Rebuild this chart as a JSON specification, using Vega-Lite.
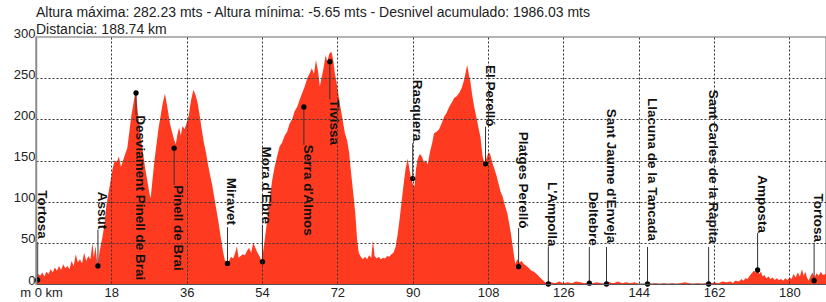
{
  "$schema": "https://vega.github.io/schema/vega-lite/v6.json",
  "width": 790,
  "height": 247,
  "autosize": {"type": "none"},
  "padding": {"left": 36, "top": 37, "right": 0, "bottom": 18},
  "background": "white",
  "config": {
    "font": "Liberation Sans",
    "view": {"stroke": "#9a9a9a", "strokeWidth": 1.5},
    "axis": {"labelFont": "Liberation Sans", "labelFontSize": 13, "labelColor": "#222", "titleFontSize": 13}
  },
  "title": {
    "text": ["Altura máxima: 282.23 mts - Altura mínima: -5.65 mts - Desnivel acumulado: 1986.03 mts", "Distancia: 188.74 km"],
    "anchor": "start",
    "frame": "group",
    "font": "Liberation Sans",
    "fontSize": 14,
    "fontWeight": "normal",
    "color": "#222",
    "lineHeight": 17,
    "offset": -10
  },
  "datasets": {
    "profile": [
      {"km": 0, "elev": 5}, {"km": 0.5, "elev": 12}, {"km": 1, "elev": 10}, {"km": 1.5, "elev": 14}, {"km": 2, "elev": 9},
      {"km": 2.5, "elev": 15}, {"km": 3, "elev": 12}, {"km": 3.5, "elev": 18}, {"km": 4, "elev": 14}, {"km": 4.5, "elev": 20},
      {"km": 5, "elev": 16}, {"km": 5.5, "elev": 22}, {"km": 6, "elev": 17}, {"km": 6.5, "elev": 24}, {"km": 7, "elev": 19},
      {"km": 7.5, "elev": 22}, {"km": 8, "elev": 18}, {"km": 8.5, "elev": 28}, {"km": 9, "elev": 22}, {"km": 9.5, "elev": 36},
      {"km": 10, "elev": 26}, {"km": 10.5, "elev": 30}, {"km": 11, "elev": 25}, {"km": 11.5, "elev": 38}, {"km": 12, "elev": 28},
      {"km": 12.5, "elev": 34}, {"km": 13, "elev": 30}, {"km": 13.5, "elev": 50}, {"km": 13.8, "elev": 32}, {"km": 14.2, "elev": 46},
      {"km": 14.7, "elev": 22}, {"km": 15.2, "elev": 40}, {"km": 15.8, "elev": 55}, {"km": 16.3, "elev": 70}, {"km": 16.8, "elev": 95},
      {"km": 17.3, "elev": 110}, {"km": 17.8, "elev": 125}, {"km": 18.3, "elev": 140}, {"km": 18.8, "elev": 150}, {"km": 19.3, "elev": 148},
      {"km": 19.8, "elev": 155}, {"km": 20.3, "elev": 142}, {"km": 20.8, "elev": 150}, {"km": 21.3, "elev": 158}, {"km": 21.8, "elev": 165},
      {"km": 22.3, "elev": 185}, {"km": 22.8, "elev": 205}, {"km": 23.3, "elev": 220}, {"km": 23.8, "elev": 236}, {"km": 24.2, "elev": 215},
      {"km": 24.6, "elev": 195}, {"km": 25.1, "elev": 175}, {"km": 25.6, "elev": 158}, {"km": 26.1, "elev": 140}, {"km": 26.6, "elev": 125},
      {"km": 27.1, "elev": 110}, {"km": 27.4, "elev": 104}, {"km": 27.8, "elev": 125}, {"km": 28.3, "elev": 150}, {"km": 28.8, "elev": 170},
      {"km": 29.3, "elev": 190}, {"km": 29.8, "elev": 205}, {"km": 30.3, "elev": 220}, {"km": 30.8, "elev": 231}, {"km": 31.2, "elev": 220},
      {"km": 31.6, "elev": 208}, {"km": 32.0, "elev": 195}, {"km": 32.5, "elev": 185}, {"km": 33.0, "elev": 175}, {"km": 33.4, "elev": 170},
      {"km": 33.8, "elev": 182}, {"km": 34.2, "elev": 190}, {"km": 34.6, "elev": 180}, {"km": 35.0, "elev": 192}, {"km": 35.5, "elev": 188},
      {"km": 36.0, "elev": 196}, {"km": 36.5, "elev": 205}, {"km": 37.0, "elev": 222}, {"km": 37.6, "elev": 236}, {"km": 38.1, "elev": 230},
      {"km": 38.6, "elev": 220}, {"km": 39.1, "elev": 205}, {"km": 39.6, "elev": 188}, {"km": 40.1, "elev": 172}, {"km": 40.6, "elev": 160},
      {"km": 41.1, "elev": 145}, {"km": 41.6, "elev": 132}, {"km": 42.1, "elev": 120}, {"km": 42.6, "elev": 105}, {"km": 43.1, "elev": 90},
      {"km": 43.6, "elev": 75}, {"km": 44.1, "elev": 58}, {"km": 44.6, "elev": 42}, {"km": 45.1, "elev": 29}, {"km": 45.6, "elev": 26},
      {"km": 46.1, "elev": 28}, {"km": 46.6, "elev": 33}, {"km": 47.1, "elev": 31}, {"km": 47.6, "elev": 38}, {"km": 48.0, "elev": 46},
      {"km": 48.4, "elev": 32}, {"km": 48.9, "elev": 34}, {"km": 49.4, "elev": 36}, {"km": 49.9, "elev": 35}, {"km": 50.4, "elev": 40},
      {"km": 50.9, "elev": 44}, {"km": 51.4, "elev": 38}, {"km": 51.9, "elev": 50}, {"km": 52.4, "elev": 44}, {"km": 52.9, "elev": 38},
      {"km": 53.4, "elev": 34}, {"km": 53.9, "elev": 27}, {"km": 54.3, "elev": 40}, {"km": 54.8, "elev": 60}, {"km": 55.3, "elev": 80},
      {"km": 55.8, "elev": 102}, {"km": 56.4, "elev": 125}, {"km": 57.0, "elev": 142}, {"km": 57.6, "elev": 155}, {"km": 58.2, "elev": 167},
      {"km": 58.8, "elev": 172}, {"km": 59.4, "elev": 180}, {"km": 60.0, "elev": 185}, {"km": 60.6, "elev": 195}, {"km": 61.2, "elev": 200},
      {"km": 61.8, "elev": 210}, {"km": 62.4, "elev": 215}, {"km": 63.0, "elev": 224}, {"km": 63.6, "elev": 232}, {"km": 64.2, "elev": 240},
      {"km": 64.8, "elev": 250}, {"km": 65.4, "elev": 256}, {"km": 65.9, "elev": 262}, {"km": 66.4, "elev": 255}, {"km": 66.9, "elev": 272},
      {"km": 67.4, "elev": 258}, {"km": 67.8, "elev": 240}, {"km": 68.2, "elev": 250}, {"km": 68.7, "elev": 262}, {"km": 69.2, "elev": 278},
      {"km": 69.6, "elev": 270}, {"km": 70.1, "elev": 280}, {"km": 70.6, "elev": 282.23}, {"km": 71.0, "elev": 272}, {"km": 71.4, "elev": 256},
      {"km": 71.8, "elev": 245}, {"km": 72.2, "elev": 232}, {"km": 72.6, "elev": 218}, {"km": 73.0, "elev": 207}, {"km": 73.4, "elev": 195},
      {"km": 73.8, "elev": 183}, {"km": 74.3, "elev": 175}, {"km": 74.8, "elev": 160}, {"km": 75.3, "elev": 134}, {"km": 75.8, "elev": 110},
      {"km": 76.3, "elev": 85}, {"km": 76.7, "elev": 55}, {"km": 77.1, "elev": 38}, {"km": 77.6, "elev": 33}, {"km": 78.1, "elev": 30},
      {"km": 78.6, "elev": 33}, {"km": 79.1, "elev": 30}, {"km": 79.6, "elev": 35}, {"km": 80.1, "elev": 32}, {"km": 80.5, "elev": 53},
      {"km": 80.9, "elev": 34}, {"km": 81.4, "elev": 31}, {"km": 81.9, "elev": 33}, {"km": 82.4, "elev": 30}, {"km": 82.9, "elev": 32},
      {"km": 83.4, "elev": 31}, {"km": 83.9, "elev": 34}, {"km": 84.4, "elev": 33}, {"km": 84.9, "elev": 36}, {"km": 85.4, "elev": 38},
      {"km": 85.9, "elev": 45}, {"km": 86.4, "elev": 60}, {"km": 86.9, "elev": 80}, {"km": 87.3, "elev": 98}, {"km": 87.8, "elev": 120},
      {"km": 88.3, "elev": 140}, {"km": 88.8, "elev": 152}, {"km": 89.2, "elev": 140}, {"km": 89.6, "elev": 128}, {"km": 90.0, "elev": 122},
      {"km": 90.4, "elev": 118}, {"km": 90.8, "elev": 140}, {"km": 91.2, "elev": 152}, {"km": 91.7, "elev": 158}, {"km": 92.2, "elev": 155},
      {"km": 92.7, "elev": 148}, {"km": 93.2, "elev": 150}, {"km": 93.6, "elev": 145}, {"km": 94.1, "elev": 160}, {"km": 94.6, "elev": 170},
      {"km": 95.1, "elev": 183}, {"km": 95.7, "elev": 185}, {"km": 96.3, "elev": 188}, {"km": 96.9, "elev": 195}, {"km": 97.5, "elev": 203},
      {"km": 98.1, "elev": 208}, {"km": 98.7, "elev": 215}, {"km": 99.3, "elev": 220}, {"km": 99.9, "elev": 226}, {"km": 100.5, "elev": 228},
      {"km": 101.1, "elev": 232}, {"km": 101.7, "elev": 238}, {"km": 102.3, "elev": 248}, {"km": 102.7, "elev": 258}, {"km": 103.0, "elev": 266},
      {"km": 103.4, "elev": 255}, {"km": 103.8, "elev": 245}, {"km": 104.2, "elev": 230}, {"km": 104.7, "elev": 215}, {"km": 105.2, "elev": 203},
      {"km": 105.7, "elev": 190}, {"km": 106.2, "elev": 178}, {"km": 106.7, "elev": 155}, {"km": 107.1, "elev": 148}, {"km": 107.6, "elev": 152},
      {"km": 108.1, "elev": 160}, {"km": 108.5, "elev": 158}, {"km": 109.0, "elev": 148}, {"km": 109.5, "elev": 140}, {"km": 110.0, "elev": 132},
      {"km": 110.5, "elev": 122}, {"km": 111.0, "elev": 112}, {"km": 111.5, "elev": 106}, {"km": 112.0, "elev": 96}, {"km": 112.6, "elev": 86},
      {"km": 113.1, "elev": 72}, {"km": 113.5, "elev": 60}, {"km": 114.0, "elev": 42}, {"km": 114.5, "elev": 24}, {"km": 115.0, "elev": 30},
      {"km": 115.5, "elev": 26}, {"km": 116.0, "elev": 28}, {"km": 116.6, "elev": 24}, {"km": 117.2, "elev": 22}, {"km": 117.8, "elev": 19},
      {"km": 118.4, "elev": 16}, {"km": 119.0, "elev": 15}, {"km": 119.6, "elev": 12}, {"km": 120.2, "elev": 9}, {"km": 120.8, "elev": 6},
      {"km": 121.4, "elev": 3}, {"km": 122, "elev": 1}, {"km": 123, "elev": 2}, {"km": 124, "elev": 1}, {"km": 125, "elev": 3},
      {"km": 126, "elev": 1}, {"km": 127, "elev": 2}, {"km": 128, "elev": 1}, {"km": 129, "elev": 3}, {"km": 130, "elev": 2},
      {"km": 131, "elev": 1}, {"km": 132, "elev": 2}, {"km": 133, "elev": 1}, {"km": 134, "elev": 2}, {"km": 135, "elev": 1},
      {"km": 136, "elev": 0}, {"km": 137, "elev": 2}, {"km": 138, "elev": 1}, {"km": 139, "elev": 3}, {"km": 140, "elev": 1},
      {"km": 141, "elev": 2}, {"km": 142, "elev": 1}, {"km": 143, "elev": 2}, {"km": 144, "elev": 0}, {"km": 145, "elev": 0},
      {"km": 146, "elev": 1}, {"km": 147, "elev": 0}, {"km": 148, "elev": 1}, {"km": 149, "elev": 0}, {"km": 150, "elev": 1},
      {"km": 151, "elev": 0}, {"km": 152, "elev": 1}, {"km": 153, "elev": 0}, {"km": 154, "elev": 1}, {"km": 155, "elev": 2},
      {"km": 156, "elev": 1}, {"km": 157, "elev": 0}, {"km": 158, "elev": 1}, {"km": 159, "elev": 0}, {"km": 160, "elev": 1},
      {"km": 161, "elev": 0}, {"km": 162, "elev": 2}, {"km": 163, "elev": 1}, {"km": 164, "elev": 3}, {"km": 165, "elev": 2},
      {"km": 166, "elev": 3}, {"km": 166.5, "elev": 1}, {"km": 167, "elev": 4}, {"km": 168, "elev": 3}, {"km": 168.5, "elev": 6},
      {"km": 169, "elev": 4}, {"km": 169.5, "elev": 7}, {"km": 170, "elev": 6}, {"km": 170.5, "elev": 10}, {"km": 171, "elev": 13},
      {"km": 171.5, "elev": 16}, {"km": 172, "elev": 14}, {"km": 172.4, "elev": 20}, {"km": 172.8, "elev": 12}, {"km": 173.2, "elev": 15},
      {"km": 173.6, "elev": 9}, {"km": 174, "elev": 11}, {"km": 174.5, "elev": 7}, {"km": 175, "elev": 9}, {"km": 175.5, "elev": 6},
      {"km": 176, "elev": 8}, {"km": 176.5, "elev": 5}, {"km": 177, "elev": 7}, {"km": 177.5, "elev": 5}, {"km": 178, "elev": 6},
      {"km": 178.5, "elev": 4}, {"km": 179, "elev": 7}, {"km": 179.5, "elev": 5}, {"km": 180, "elev": 8}, {"km": 180.5, "elev": 6},
      {"km": 181, "elev": 12}, {"km": 181.5, "elev": 8}, {"km": 182, "elev": 14}, {"km": 182.5, "elev": 9}, {"km": 183, "elev": 18},
      {"km": 183.4, "elev": 10}, {"km": 183.8, "elev": 15}, {"km": 184.2, "elev": 8}, {"km": 184.6, "elev": 4}, {"km": 185, "elev": 9},
      {"km": 185.5, "elev": 14}, {"km": 186, "elev": 8}, {"km": 186.5, "elev": 13}, {"km": 187, "elev": 10}, {"km": 187.5, "elev": 15},
      {"km": 188, "elev": 11}, {"km": 188.74, "elev": 12}
    ],
    "waypoints": [
      {"name": "Tortosa", "km": 0.4, "elev": 5, "label_top": 114, "line_end": 51},
      {"name": "Assut", "km": 14.8, "elev": 22, "label_top": 112, "line_end": 66},
      {"name": "Desviament Pinell de Brai", "km": 23.9, "elev": 232, "label_top": 205, "line_end": 205},
      {"name": "Pinell de Brai", "km": 33.0, "elev": 165, "label_top": 120, "line_end": 120},
      {"name": "Miravet", "km": 45.75, "elev": 25, "label_top": 129, "line_end": 69},
      {"name": "Mora d'Ebre", "km": 54.1, "elev": 27, "label_top": 167, "line_end": 72},
      {"name": "Serra d'Almos", "km": 64.0, "elev": 215, "label_top": 169, "line_end": 169},
      {"name": "Tivissa", "km": 70.2, "elev": 270, "label_top": 224, "line_end": 224},
      {"name": "Rasquera", "km": 90.0, "elev": 128, "label_top": 248, "line_end": 171},
      {"name": "El Perelló", "km": 107.4, "elev": 146, "label_top": 266, "line_end": 191},
      {"name": "Platges Perelló", "km": 115.3, "elev": 21, "label_top": 185, "line_end": 68},
      {"name": "L'Ampolla", "km": 122.4, "elev": 0, "label_top": 124, "line_end": 45},
      {"name": "Deltebre", "km": 132.2, "elev": 1, "label_top": 112, "line_end": 45},
      {"name": "Sant Jaume d'Enveja", "km": 136.3, "elev": 0, "label_top": 213, "line_end": 45},
      {"name": "Llacuna de la Tancada", "km": 146.1, "elev": 0, "label_top": 226, "line_end": 45},
      {"name": "Sant Carles de la Ràpita", "km": 160.7, "elev": 0, "label_top": 236, "line_end": 45},
      {"name": "Amposta", "km": 172.4, "elev": 17, "label_top": 132, "line_end": 62},
      {"name": "Tortosa", "km": 185.9, "elev": 4, "label_top": 110, "line_end": 50}
    ]
  },
  "layer": [
    {
      "data": {"name": "profile"},
      "mark": {"type": "area", "color": "#FE3B20", "clip": true, "interpolate": "linear"},
      "encoding": {
        "x": {
          "field": "km", "type": "quantitative",
          "scale": {"domain": [0, 188.74], "nice": false, "zero": false},
          "axis": {
            "title": null,
            "values": [0, 18, 36, 54, 72, 90, 108, 126, 144, 162, 180],
            "labelExpr": "datum.value == 0 ? 'm 0 km' : datum.label",
            "labelOffset": {"condition": {"test": "datum.value == 0", "value": 5}, "value": 0},
            "labelFlush": false,
            "labelOverlap": false,
            "labelPadding": 2,
            "ticks": false,
            "domainColor": "#555",
            "domainWidth": 1,
            "grid": true,
            "gridColor": "#333",
            "gridDash": [2, 2],
            "gridWidth": 1,
            "gridOpacity": {"condition": {"test": "datum.value == 0", "value": 0}, "value": 1},
            "zindex": 1
          }
        },
        "y": {
          "field": "elev", "type": "quantitative",
          "scale": {"domain": [0, 300], "nice": false},
          "axis": {
            "title": null,
            "values": [0, 50, 100, 150, 200, 250, 300],
            "labelBaseline": "alphabetic",
            "labelFlush": false,
            "labelPadding": 1,
            "ticks": false,
            "domainColor": "#8a8a8a",
            "domainWidth": 1.5,
            "grid": true,
            "gridColor": "#333",
            "gridDash": [2, 2],
            "gridWidth": 1,
            "gridOpacity": {"condition": {"test": "datum.value == 0 || datum.value == 300", "value": 0}, "value": 1},
            "zindex": 1
          }
        }
      }
    },
    {
      "data": {"name": "waypoints"},
      "mark": {"type": "rule", "color": "#333", "strokeWidth": 1},
      "encoding": {
        "x": {"field": "km", "type": "quantitative"},
        "y": {"field": "elev", "type": "quantitative"},
        "y2": {"field": "line_end"}
      }
    },
    {
      "data": {"name": "waypoints"},
      "mark": {"type": "point", "filled": true, "color": "#000", "opacity": 1, "size": 28},
      "encoding": {
        "x": {"field": "km", "type": "quantitative"},
        "y": {"field": "elev", "type": "quantitative"}
      }
    },
    {
      "data": {"name": "waypoints"},
      "mark": {"type": "text", "angle": 90, "align": "left", "baseline": "alphabetic", "font": "Liberation Sans", "fontSize": 13.5, "fontWeight": "bold", "color": "#111"},
      "encoding": {
        "x": {"field": "km", "type": "quantitative"},
        "y": {"field": "label_top", "type": "quantitative"},
        "text": {"field": "name"}
      }
    }
  ]
}
